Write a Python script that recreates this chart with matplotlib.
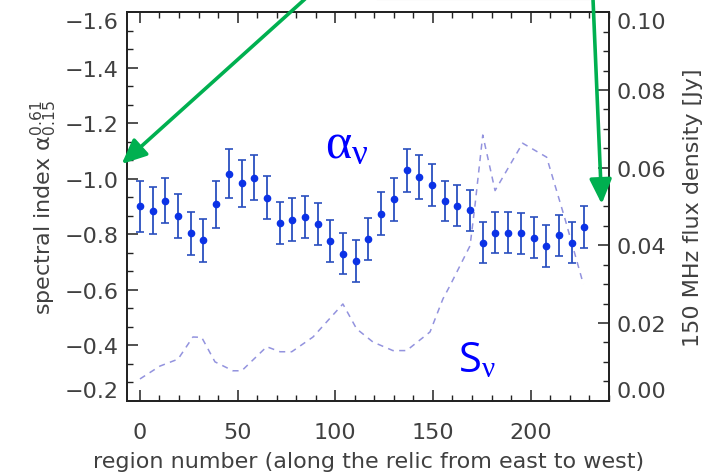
import numpy as np
import matplotlib
matplotlib.use("Agg")
import matplotlib.pyplot as plt
from matplotlib.ticker import AutoMinorLocator, FuncFormatter
from matplotlib.lines import Line2D

plt.rcParams['font.family'] = ['DejaVu Sans']
plt.rcParams['mathtext.fontset'] = 'custom'
plt.rcParams['mathtext.rm'] = 'Liberation Serif'
plt.rcParams['mathtext.it'] = 'Liberation Serif:italic'
plt.rcParams['mathtext.sf'] = 'DejaVu Sans'

# region numbers along the relic
region = [0, 6.5, 13, 19.5, 26, 32.5, 39, 45.5, 52, 58.5, 65, 71.5,
          78, 84.5, 91, 97.5, 104, 110.5, 117, 123.5, 130, 136.5, 143, 149.5,
          156, 162.5, 169, 175.5, 182, 188.5, 195, 201.5, 208, 214.5, 221, 227.5]
# spectral index per region and its error
alpha = [-0.90, -0.885, -0.92, -0.867, -0.803, -0.778, -0.908, -1.018, -0.983, -1.003, -0.932, -0.841,
         -0.853, -0.861, -0.836, -0.777, -0.729, -0.703, -0.783, -0.874, -0.926, -1.030, -1.005, -0.977,
         -0.919, -0.903, -0.886, -0.770, -0.806, -0.806, -0.803, -0.788, -0.759, -0.796, -0.770, -0.827]
alpha_err = [0.092, 0.084, 0.081, 0.079, 0.077, 0.077, 0.084, 0.088, 0.086, 0.081, 0.078, 0.077,
             0.076, 0.076, 0.076, 0.076, 0.074, 0.076, 0.076, 0.077, 0.078, 0.078, 0.079, 0.077,
             0.073, 0.074, 0.074, 0.074, 0.074, 0.074, 0.074, 0.074, 0.076, 0.074, 0.073, 0.076]

# 150 MHz flux density profile
flux_x = [0, 10.2, 19.5, 27.1, 31.6, 38.4, 47.6, 52.1, 64.9, 71.7, 77.7, 88.6, 103.9, 110.9,
          119.3, 129.5, 136.5, 148.5, 155.1, 158.7, 169, 171.5, 175.5, 181.8, 195.9, 208.2,
          217.6, 227]
flux = [0.0056, 0.0089, 0.0107, 0.0164, 0.0163, 0.0100, 0.0077, 0.0077, 0.0139, 0.0126, 0.0126,
        0.0164, 0.0249, 0.0185, 0.0151, 0.0129, 0.0129, 0.0177, 0.0262, 0.0296, 0.0399, 0.0502,
        0.0684, 0.0541, 0.0663, 0.0627, 0.0468, 0.0300]

xticks = [0, 50, 100, 150, 200]
yticks_left = [-1.6, -1.4, -1.2, -1.0, -0.8, -0.6, -0.4, -0.2]
yticks_right = [0.00, 0.02, 0.04, 0.06, 0.08, 0.10]

txt = '#404040'
fig = plt.figure(figsize=(7.13, 4.77), dpi=100)
ax = fig.add_axes([0.1785, 0.1579, 0.6761, 0.8142])
ax2 = ax.twinx()

# flux density (right axis)
ax2.plot(flux_x, flux, color='#7878d6', lw=1.1, dashes=(4, 3.5), alpha=0.8)

# spectral index (left axis)
ax.errorbar(region, alpha, yerr=alpha_err, fmt='o', color='#0b32e6', ms=4.5,
            ecolor='#2a4fbf', elinewidth=1.3, capsize=3, capthick=1.2, zorder=3)
ax.set_zorder(ax2.get_zorder() + 1)
ax.patch.set_visible(False)

ax.set_xlim(-6.5, 240.3)
ax.set_ylim(-0.2, -1.6)
ax2.set_ylim(0, 0.10)

ax.set_xticks(xticks)
ax.set_yticks(yticks_left)
ax2.set_yticks(yticks_right)
ax.xaxis.set_minor_locator(AutoMinorLocator(5))
ax.yaxis.set_minor_locator(AutoMinorLocator(3))
ax2.yaxis.set_minor_locator(AutoMinorLocator(4))
ax.yaxis.set_major_formatter(FuncFormatter(lambda v, p: ('%.1f' % v).replace('-', '\u2212')))
ax2.yaxis.set_major_formatter(FuncFormatter(lambda v, p: '%.2f' % v))

ax.tick_params(axis='x', which='both', direction='in', top=True, bottom=True,
               labelsize=16, labelcolor=txt, pad=15)
ax.tick_params(axis='y', which='both', direction='in', left=True, right=False,
               labelsize=16, labelcolor=txt, pad=6)
ax2.tick_params(axis='y', which='both', direction='in', labelsize=16, labelcolor=txt, pad=5)
for a in (ax, ax2):
    a.tick_params(which='major', length=8, width=1.1, color='#222222')
    a.tick_params(which='minor', length=4.5, width=1.0, color='#222222')
    for s in a.spines.values():
        s.set_linewidth(1.3)
        s.set_color('#222222')

# end labels pulled inside the frame
ax.get_yticklabels()[0].set_va('top')
ax.get_yticklabels()[-1].set_va('bottom')
ax2.get_yticklabels()[0].set_va('bottom')
ax2.get_yticklabels()[-1].set_va('top')

ax.set_xlabel('region number (along the relic from east to west)', fontsize=16, color=txt, labelpad=7)
ax.set_ylabel(r'spectral index $\mathsf{\alpha}^{\mathsf{0.61}}_{\mathsf{0.15}}$', fontsize=16,
              color=txt, labelpad=4)
ax2.set_ylabel('150 MHz flux density [Jy]', fontsize=16, color=txt, labelpad=12)

ax.text(106, -1.13, r'$\mathrm{\alpha}_{\mathrm{\nu}}$', color='#0000ff', fontsize=36,
        ha='center', va='center')
ax2.text(162.8, 0.0076, r'S$_{\mathrm{\nu}}$', color='#0000ff', fontsize=30, ha='left',
         va='baseline', family='Open Sans')

# green annotation arrows pointing at the two axes
arrow = dict(arrowstyle='-|>,head_length=1.0,head_width=0.45', color='#00b050', lw=2.6,
             mutation_scale=15, shrinkA=0, shrinkB=0)
ax.annotate('', xy=(121.7, 312), xytext=(305, 477), xycoords='figure pixels',
            textcoords='figure pixels', arrowprops=arrow, annotation_clip=False)
ax.annotate('', xy=(601.7, 272), xytext=(593, 477), xycoords='figure pixels',
            textcoords='figure pixels', arrowprops=arrow, annotation_clip=False)
fig.add_artist(Line2D([0.53, 0.83], [0.999, 0.999], transform=fig.transFigure,
                      color='#d0d0d0', lw=1.5))

fig.savefig('out.png', dpi=100)
